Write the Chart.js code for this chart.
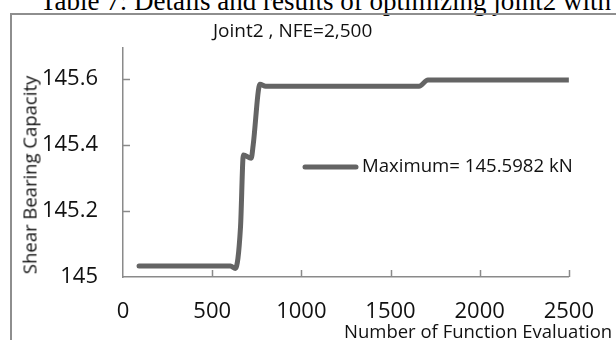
<!DOCTYPE html>
<html>
<head>
<meta charset="utf-8">
<script src="https://cdn.jsdelivr.net/npm/chart.js@4.4.0/dist/chart.umd.min.js"></script>
<style>
  html, body { margin: 0; padding: 0; background: #fff; }
  #page { position: relative; width: 616px; height: 340px; overflow: hidden; }
  #chart { position: absolute; left: 0; top: 0; }
  .txt { position: absolute; white-space: nowrap; color: #111; font-family: 'Open Sans', sans-serif; }
  #caption { left: 40px; top: -12px; font: 27px/27px 'Liberation Serif', 'Times New Roman', serif; color: #000; }
  #frame { position: absolute; left: 10px; top: 13px; width: 700px; height: 400px;
           border-left: 2px solid #8e8e8e; border-top: 2px solid #8e8e8e; }
  #title { left: 213px; top: 21px; font-size: 19px; line-height: 19px; }
  #xtitle { left: 344px; top: 321px; font-size: 18.5px; line-height: 19px; }
  #ytitle { left: 29px; top: 175px; font-size: 18.5px; line-height: 19px;
            transform: translate(-50%, -50%) rotate(-90deg); }
</style>
</head>
<body>
<div id="page">
  <div class="txt" id="caption">Table 7: Details and results of optimizing joint2 with</div>
  <div id="frame"></div>
  <canvas id="chart" width="616" height="340"></canvas>
  <div class="txt" id="title">Joint2 , NFE=2,500</div>
  <div class="txt" id="ytitle">Shear Bearing Capacity</div>
  <div class="txt" id="xtitle">Number of Function Evaluation</div>
</div>
<script>
/* ── data ── */
const nfe      = [90, 603, 630, 659, 675, 719, 730, 768, 800, 1660, 1710, 2500];
const capacity = [145.033, 145.033, 145.026, 145.152, 145.37, 145.36, 145.40, 145.584, 145.578, 145.578, 145.597, 145.597];
const seriesLabel = 'Maximum= 145.5982 kN';
const xTicks = [0, 500, 1000, 1500, 2000, 2500];
const yTicks = [145, 145.2, 145.4, 145.6];

const LINE_COLOR = '#646464';
const AXIS_COLOR = '#8a8a8a';

/* ── inward tick marks + floating legend ── */
const extras = {
  id: 'extras',
  afterDraw(chart) {
    const { ctx, chartArea: a, scales } = chart;
    ctx.save();
    ctx.strokeStyle = AXIS_COLOR;
    ctx.lineWidth = 1.5;
    yTicks.slice(1).forEach(v => {
      const y = Math.round(scales.y.getPixelForValue(v)) + 0.5;
      ctx.beginPath(); ctx.moveTo(a.left, y); ctx.lineTo(a.left + 7, y); ctx.stroke();
    });
    xTicks.slice(1).forEach(v => {
      const x = Math.round(scales.x.getPixelForValue(v)) + 0.5;
      ctx.beginPath(); ctx.moveTo(x, a.bottom); ctx.lineTo(x, a.bottom - 7); ctx.stroke();
    });

    // legend sample
    const ds = chart.data.datasets[0];
    ctx.strokeStyle = ds.borderColor;
    ctx.lineWidth = ds.borderWidth;
    ctx.lineCap = 'round';
    ctx.beginPath(); ctx.moveTo(305, 167); ctx.lineTo(356, 167); ctx.stroke();
    ctx.fillStyle = '#111';
    ctx.font = '18.6px "Open Sans"';
    ctx.textBaseline = 'middle';
    ctx.fillText(ds.label, 362, 167);
    ctx.restore();
  }
};

new Chart(document.getElementById('chart'), {
  type: 'line',
  data: {
    datasets: [{
      label: seriesLabel,
      data: nfe.map((x, i) => ({ x, y: capacity[i] })),
      borderColor: LINE_COLOR,
      borderWidth: 5,
      borderCapStyle: 'round',
      borderJoinStyle: 'round',
      pointRadius: 0,
      fill: false,
      cubicInterpolationMode: 'monotone'
    }]
  },
  options: {
    responsive: false,
    animation: false,
    devicePixelRatio: 1,
    layout: { padding: { top: 48, right: 40, left: 0, bottom: 0 } },
    plugins: {
      legend: { display: false },
      tooltip: { enabled: false },
      title: { display: false }
    },
    scales: {
      x: {
        type: 'linear',
        min: 0, max: 2500,
        afterBuildTicks: s => { s.ticks = xTicks.map(value => ({ value })); },
        afterFit: s => { s.height = 63; },
        grid: { display: false, drawTicks: false },
        border: { display: true, color: AXIS_COLOR, width: 1.5 },
        ticks: { padding: 22, color: '#111', font: { family: 'Open Sans', size: 22 }, maxRotation: 0,
                 callback: v => String(v) }
      },
      y: {
        min: 145, max: 145.694,
        afterBuildTicks: s => { s.ticks = yTicks.map(value => ({ value })); },
        afterFit: s => { s.width = 123; },
        grid: { display: false, drawTicks: false },
        border: { display: true, color: AXIS_COLOR, width: 1.5 },
        ticks: { padding: 25, color: '#111', font: { family: 'Open Sans', size: 22 },
                 callback: v => String(v) }
      }
    }
  },
  plugins: [extras]
});
</script>
</body>
</html>
